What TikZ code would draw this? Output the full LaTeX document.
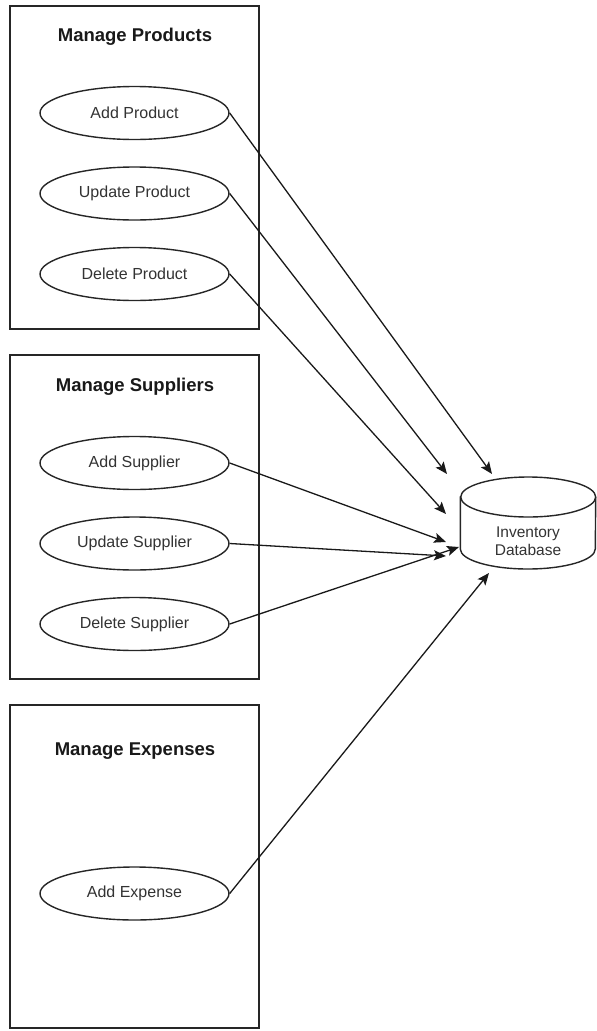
\documentclass[tikz,border=0pt]{standalone}
\usepackage{fontspec}
\setmainfont{Liberation Sans}
\usetikzlibrary{shapes.geometric,arrows.meta}
\begin{document}
\begin{tikzpicture}[x=1pt,y=-1pt,
  group/.style={draw=black!85, line width=1.4pt},
  grouptitle/.style={font=\bfseries\fontsize{18.5}{21}\selectfont, text=black!90},
  usecase/.style={ellipse, draw=black!85, line width=1.4pt, fill=white,
    minimum width=189pt, minimum height=53pt, inner sep=0pt,
    font=\fontsize{16}{18}\selectfont, text=black!80},
  link/.style={draw=black!90, line width=1.3pt, -{Stealth[length=12pt,width=10pt,inset=2.5pt]}},
  dbline/.style={draw=black!85, line width=1.4pt, fill=white}]
  \useasboundingbox (0,0) rectangle (597,1031);

  % group frames
  \node[group, minimum width=249pt, minimum height=323pt, inner sep=0pt] (gprod) at (134.5,167.5) {};
  \node[group, minimum width=249pt, minimum height=324pt, inner sep=0pt] (gsupp) at (134.5,517) {};
  \node[group, minimum width=249pt, minimum height=323pt, inner sep=0pt] (gexp) at (134.5,866.5) {};

  \node[grouptitle] (tprod) at (135,37) {Manage Products};
  \node[grouptitle] (tsupp) at (135,387) {Manage Suppliers};
  \node[grouptitle] (texp) at (135,751) {Manage Expenses};

  % use cases
  \node[usecase] (addp) at (134.5,113) {Add Product};
  \node[usecase] (updp) at (134.5,193.5) {Update Product};
  \node[usecase] (delp) at (134.5,274) {Delete Product};
  \node[usecase] (adds) at (134.5,463) {Add Supplier};
  \node[usecase] (upds) at (134.5,543.5) {Update Supplier};
  \node[usecase] (dels) at (134.5,624) {Delete Supplier};
  \node[usecase] (adde) at (134.5,893.5) {Add Expense};

  % database cylinder
  \node[minimum width=135pt, minimum height=92pt, inner sep=0pt] (db) at (528,523) {};
  \path[dbline] (db.west |- 0,497) -- (db.west |- 0,549)
     arc[start angle=180, end angle=360, x radius=67.5pt, y radius=20pt]
     -- (db.east |- 0,497) arc[start angle=0, end angle=180, x radius=67.5pt, y radius=20pt] -- cycle;
  \draw[dbline] (db.east |- 0,497) arc[start angle=0, end angle=-180, x radius=67.5pt, y radius=20pt];
  \node[align=center, font=\fontsize{15.5}{18}\selectfont, text=black!80] (dbtext) at (528,541) {Inventory\\Database};

  % arrow ends around the database
  \coordinate (inAP) at (492,474);
  \coordinate (inUP) at (447,474);
  \coordinate (inDP) at (446,514);
  \coordinate (inAS) at (446,542);
  \coordinate (inUS) at (446,556);
  \coordinate (inDS) at (459,547);
  \coordinate (inAE) at (489,573);

  \draw[link] (addp.east) -- (inAP);
  \draw[link] (updp.east) -- (inUP);
  \draw[link] (delp.east) -- (inDP);
  \draw[link] (adds.east) -- (inAS);
  \draw[link] (upds.east) -- (inUS);
  \draw[link] (dels.east) -- (inDS);
  \draw[link] (adde.east) -- (inAE);
\end{tikzpicture}
\end{document}
